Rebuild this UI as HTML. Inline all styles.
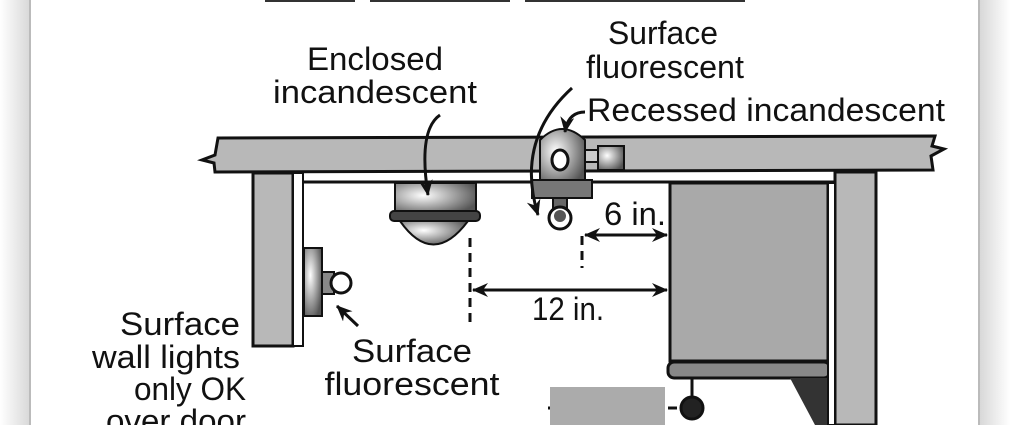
<!DOCTYPE html>
<html><head><style>
html,body{margin:0;padding:0;background:#fff;}
svg{display:block;}
text{font-family:"Liberation Sans",sans-serif;font-size:32px;fill:#111;}
</style></head><body>
<svg width="1010" height="425" viewBox="0 0 1010 425" xmlns="http://www.w3.org/2000/svg">
<defs>
<linearGradient id="ls" x1="0" x2="1"><stop offset="0" stop-color="#fff"/><stop offset="1" stop-color="#d8d8d8"/></linearGradient>
<linearGradient id="rs" x1="0" x2="1"><stop offset="0" stop-color="#d8d8d8"/><stop offset="1" stop-color="#fff"/></linearGradient>
<radialGradient id="sh" cx="0.35" cy="0.4" r="0.7"><stop offset="0" stop-color="#fff"/><stop offset="1" stop-color="#555"/></radialGradient>
<marker id="ah" markerWidth="16" markerHeight="14" refX="15" refY="7" orient="auto-start-reverse" markerUnits="userSpaceOnUse"><path d="M0,0 L16,7 L0,14 L5,7 z" fill="#111"/></marker>
</defs>
<rect x="0" y="0" width="30" height="425" fill="url(#ls)"/>
<line x1="30" y1="0" x2="30" y2="425" stroke="#bbb" stroke-width="2"/>
<rect x="980" y="0" width="30" height="425" fill="url(#rs)"/>
<line x1="979" y1="0" x2="979" y2="425" stroke="#bbb" stroke-width="2"/>
<!-- cut title -->
<g fill="#333"><rect x="265" y="0" width="90" height="2"/><rect x="370" y="0" width="140" height="2"/><rect x="525" y="0" width="220" height="2"/></g>
<!-- beam -->
<path d="M218,138 L935,136 L932,146 L944,149 L931,156 L933,170 L215,172 L214,163 L202,160 L215,155 Z" fill="#b8b8b8" stroke="#111" stroke-width="3"/>
<line x1="300" y1="182" x2="835" y2="182" stroke="#111" stroke-width="3"/>
<!-- left post -->
<rect x="253" y="173" width="40" height="173" fill="#b8b8b8" stroke="#111" stroke-width="3"/>
<rect x="293" y="173" width="10" height="173" fill="#fff" stroke="#111" stroke-width="2"/>
<!-- wall light -->
<rect x="304" y="248" width="18" height="68" fill="url(#sh)" stroke="#111" stroke-width="2"/>
<rect x="322" y="272" width="12" height="22" fill="#888" stroke="#111" stroke-width="2"/>
<circle cx="341" cy="283" r="10" fill="#fff" stroke="#111" stroke-width="3"/>
<path d="M358,326 L337,306" stroke="#111" stroke-width="3" marker-end="url(#ah)"/>
<!-- enclosed incandescent -->
<rect x="395" y="183" width="81" height="31" fill="url(#sh)" stroke="#111" stroke-width="2"/>
<rect x="390" y="211" width="90" height="10" rx="4" fill="#444" stroke="#111" stroke-width="2"/>
<path d="M400,221 Q433,268 468,221 Z" fill="url(#sh)" stroke="#111" stroke-width="2"/>
<path d="M440,115 Q418,130 428,195" fill="none" stroke="#111" stroke-width="3" marker-end="url(#ah)"/>
<!-- recessed fixture -->
<path d="M540,185 L540,140 Q562,118 585,140 L585,185 Z" fill="url(#sh)" stroke="#111" stroke-width="2"/>
<ellipse cx="560" cy="160" rx="8" ry="10" fill="#fff" stroke="#111" stroke-width="3"/>
<rect x="532" y="180" width="60" height="18" fill="#777" stroke="#111" stroke-width="2"/>
<rect x="553" y="198" width="14" height="12" fill="#666" stroke="#111" stroke-width="2"/>
<circle cx="560" cy="218" r="11" fill="#fff" stroke="#111" stroke-width="3"/>
<circle cx="560" cy="216" r="6" fill="#555"/>
<rect x="585" y="150" width="14" height="12" fill="#ccc" stroke="#111" stroke-width="2"/>
<rect x="598" y="146" width="26" height="24" fill="url(#sh)" stroke="#111" stroke-width="2"/>
<path d="M572,88 Q515,140 538,215" fill="none" stroke="#111" stroke-width="3" marker-end="url(#ah)"/>
<path d="M585,112 Q568,112 565,132" fill="none" stroke="#111" stroke-width="3" marker-end="url(#ah)"/>
<!-- dashed -->
<g stroke="#111" stroke-width="3" stroke-dasharray="9,6">
<line x1="470" y1="238" x2="470" y2="322"/>
<line x1="582" y1="236" x2="582" y2="268"/>
<line x1="670" y1="183" x2="670" y2="360"/>
<line x1="548" y1="408" x2="680" y2="408"/>
</g>
<!-- cabinet -->
<rect x="670" y="183" width="158" height="178" fill="#a9a9a9" stroke="#111" stroke-width="3"/>
<rect x="668" y="362" width="162" height="16" rx="6" fill="#888" stroke="#111" stroke-width="3"/>
<path d="M790,378 L830,378 L830,425 L815,425 Z" fill="#333"/>
<rect x="835" y="172" width="41" height="253" fill="#b8b8b8" stroke="#111" stroke-width="3"/>
<rect x="828" y="183" width="7" height="242" fill="#fff" stroke="#111" stroke-width="2"/>
<rect x="550" y="387" width="115" height="38" fill="#ababab"/>
<circle cx="692" cy="408" r="11" fill="#222" stroke="#111" stroke-width="3"/>
<line x1="692" y1="378" x2="692" y2="396" stroke="#111" stroke-width="3"/>
<!-- dims -->
<line x1="585" y1="235" x2="667" y2="235" stroke="#111" stroke-width="3" marker-start="url(#ah)" marker-end="url(#ah)"/>
<line x1="473" y1="290" x2="667" y2="290" stroke="#111" stroke-width="3" marker-start="url(#ah)" marker-end="url(#ah)"/>
<!-- labels -->
<g lengthAdjust="spacingAndGlyphs">
<text x="375" y="70" text-anchor="middle" textLength="136" lengthAdjust="spacingAndGlyphs">Enclosed</text>
<text x="375" y="103" text-anchor="middle" textLength="204" lengthAdjust="spacingAndGlyphs">incandescent</text>
<text x="663" y="44" text-anchor="middle" textLength="110" lengthAdjust="spacingAndGlyphs">Surface</text>
<text x="665" y="78" text-anchor="middle" textLength="158" lengthAdjust="spacingAndGlyphs">fluorescent</text>
<text x="587" y="121" textLength="358" lengthAdjust="spacingAndGlyphs">Recessed incandescent</text>
<text x="604" y="225" textLength="62" lengthAdjust="spacingAndGlyphs">6 in.</text>
<text x="532" y="320" textLength="72" lengthAdjust="spacingAndGlyphs">12 in.</text>
<text x="240" y="335" text-anchor="end" textLength="120" lengthAdjust="spacingAndGlyphs">Surface</text>
<text x="240" y="368" text-anchor="end" textLength="148" lengthAdjust="spacingAndGlyphs">wall lights</text>
<text x="246" y="400" text-anchor="end" textLength="112" lengthAdjust="spacingAndGlyphs">only OK</text>
<text x="246" y="432" text-anchor="end" textLength="140" lengthAdjust="spacingAndGlyphs">over door</text>
<text x="412" y="362" text-anchor="middle" textLength="120" lengthAdjust="spacingAndGlyphs">Surface</text>
<text x="412" y="395" text-anchor="middle" textLength="175" lengthAdjust="spacingAndGlyphs">fluorescent</text>
</g>
</svg>
</body></html>
